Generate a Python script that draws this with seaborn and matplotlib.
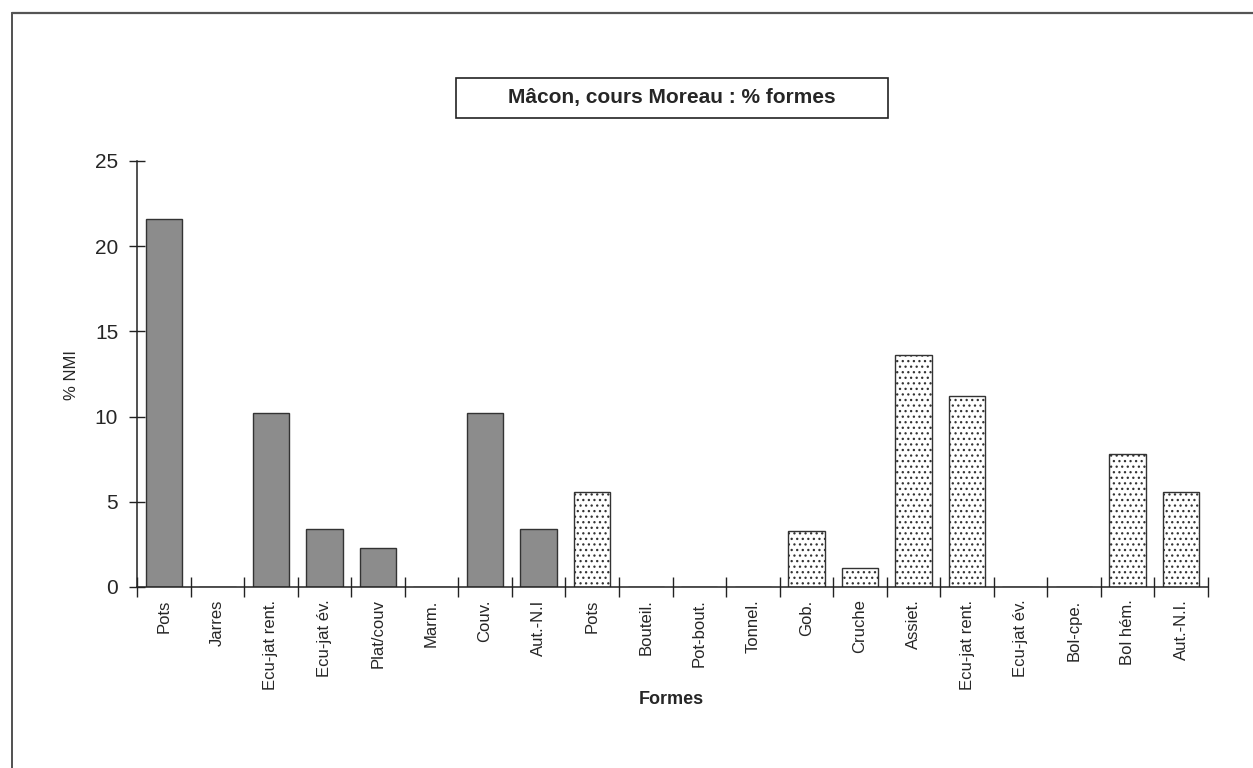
import numpy as np
import pandas as pd
import matplotlib
matplotlib.use("Agg")
import matplotlib.pyplot as plt
from matplotlib.patches import Rectangle
from matplotlib.lines import Line2D
import seaborn as sns

# ----------------------------
# Data
# ----------------------------
formes = ["Pots", "Jarres", "Ecu-jat rent.", "Ecu-jat év.", "Plat/couv", "Marm.",
          "Couv.", "Aut.-N.I", "Pots", "Bouteil.", "Pot-bout.", "Tonnel.", "Gob.",
          "Cruche", "Assiet.", "Ecu-jat rent.", "Ecu-jat év.", "Bol-cpe.", "Bol hém.",
          "Aut.-N.I."]
pct_nmi = [21.6, 0, 10.2, 3.4, 2.3, 0, 10.2, 3.4, 5.6, 0, 0, 0, 3.3,
           1.1, 13.6, 11.2, 0, 0, 7.8, 5.6]
groupe = ["A"] * 8 + ["B"] * 12

title = "Mâcon, cours Moreau : % formes"
y_ticks = [0, 5, 10, 15, 20, 25]

df = pd.DataFrame({"pos": np.arange(len(formes)), "forme": formes,
                   "pct": pct_nmi, "groupe": groupe})

# ----------------------------
# Style
# ----------------------------
sns.set_style("white")
narrow = ["Liberation Sans Narrow", "Liberation Sans", "DejaVu Sans"]
plt.rcParams["font.family"] = ["Liberation Sans", "DejaVu Sans"]
plt.rcParams["hatch.color"] = "#555555"
plt.rcParams["hatch.linewidth"] = 0.9

W, H = 1253, 768
fig = plt.figure(figsize=(W / 100, H / 100), dpi=100)
ax = fig.add_axes([137 / W, 1 - 587 / H, (1208 - 137) / W, (587 - 161) / H])

sns.barplot(data=df, x="pos", y="pct", hue="groupe",
            palette={"A": "#8c8c8c", "B": "white"}, dodge=False, legend=False,
            width=0.68, edgecolor="#333333", linewidth=1.0, ax=ax)

for p in ax.patches:
    fc = p.get_facecolor()
    if fc[0] > 0.9:
        p.set_hatch("...")

ax.set_xlim(-0.5, len(formes) - 0.5)
ax.set_ylim(0, 25)
sns.despine(ax=ax)
for s in ["left", "bottom"]:
    ax.spines[s].set_color("#222222")
    ax.spines[s].set_linewidth(1.1)

# ticks: boundaries crossing the axis, labels at category centres
ax.set_xticks(np.arange(-0.5, len(formes), 1))
ax.set_xticklabels([])
ax.set_xticks(np.arange(len(formes)), minor=True)
ax.set_xticklabels(formes, minor=True, rotation=90, family=narrow, fontsize=12)
ax.tick_params(axis="x", which="major", bottom=True, direction="inout",
               length=14, width=1.0, color="#222222")
ax.tick_params(axis="x", which="minor", bottom=True, length=0, pad=9)
ax.set_yticks(y_ticks)
ax.set_yticklabels([str(v) for v in y_ticks], fontsize=15)
ax.tick_params(axis="y", left=True, direction="inout", length=11, width=1.0,
               color="#222222", pad=8)
ax.set_xlabel("")
ax.set_ylabel("")

# axis titles
fig.text(671 / W, 1 - 700 / H, "Formes", ha="center", va="center",
         fontsize=13, fontweight="bold")
fig.text(72 / W, 1 - 375 / H, "% NMI", ha="center", va="center",
         rotation=90, fontsize=12, family=narrow)

# title in a box
fig.patches.append(Rectangle((456 / W, 1 - 118 / H), 432 / W, 40 / H,
                             transform=fig.transFigure, fill=False,
                             edgecolor="#222222", linewidth=1.2))
fig.text(672 / W, 1 - 98 / H, title, ha="center", va="center",
         fontsize=15, fontweight="bold")

# outer frame (left and top only, as scanned)
fig.lines.append(Line2D([12 / W, 12 / W], [0, 1 - 13 / H], transform=fig.transFigure,
                        color="#333333", linewidth=1.2))
fig.lines.append(Line2D([12 / W, 1], [1 - 13 / H, 1 - 13 / H], transform=fig.transFigure,
                        color="#555555", linewidth=1.6))

fig.savefig("out.png", dpi=100)
